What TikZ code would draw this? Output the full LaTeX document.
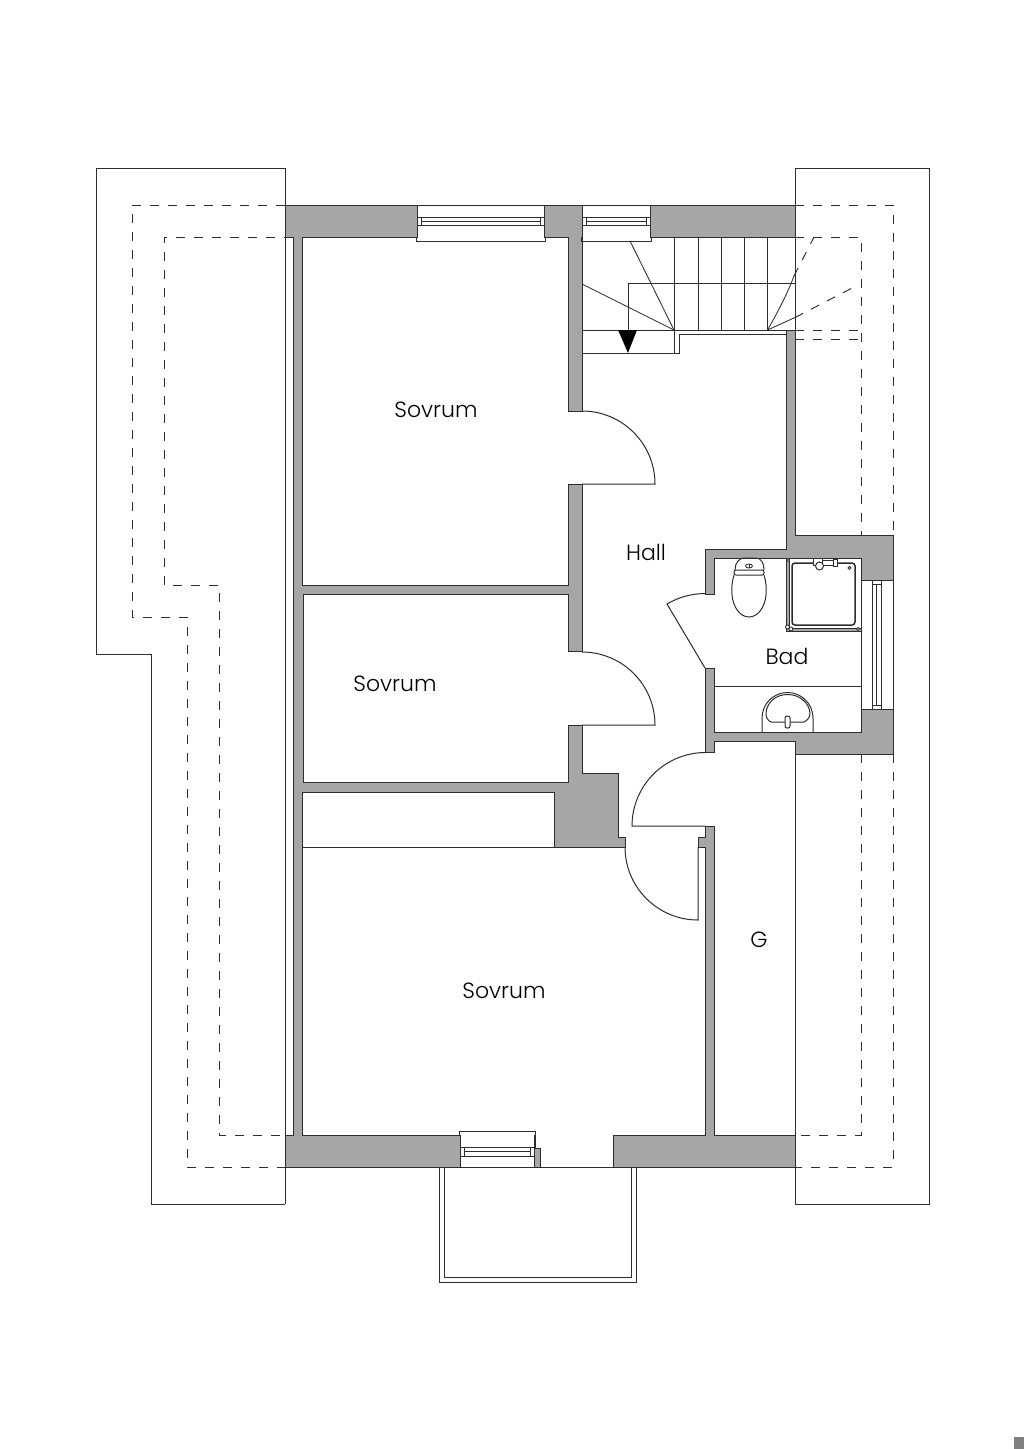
\documentclass[tikz,border=0pt]{standalone}
\usepackage{fontspec}
\setmainfont{Poppins}[UprightFont=*-Light]
\definecolor{wallgray}{HTML}{A6A6A6}
\definecolor{ink}{HTML}{2E2E2E}
\tikzset{
  wall/.style={fill=wallgray,draw=ink,line width=0.95pt,line join=miter},
  ln/.style={draw=ink,line width=1pt},
  thin/.style={draw=ink,line width=0.85pt},
  dsh/.style={draw=ink,line width=0.95pt,dash pattern=on 9pt off 9pt},
  roomlabel/.style={font=\fontsize{22}{24}\selectfont,text=black,inner sep=0pt},
}
\begin{document}
\begin{tikzpicture}[x=1pt,y=-1pt]
\useasboundingbox (0,0) rectangle (1024,1449);
\fill[white] (0,0) rectangle (1024,1449);
\fill[black!50] (1014,1437) rectangle (1024,1449);

% roof outlines
\draw[ln] (285,168) -- (96,168) -- (96,654) -- (151,654) -- (151,1204) -- (285,1204);
\draw[ln] (285,168) -- (285,1204);
\draw[ln] (795,168) -- (929,168) -- (929,1204) -- (795,1204);
\draw[ln] (795,168) -- (795,535);
\draw[ln] (795,741) -- (795,1204);

% dashed lines
\draw[dsh] (285,205) -- (132,205) -- (132,617) -- (187,617) -- (187,1167) -- (285,1167);
\draw[dsh] (293,237) -- (164,237) -- (164,585) -- (219,585) -- (219,1135) -- (293,1135);
\draw[dsh] (795,205) -- (893,205) -- (893,535);
\draw[dsh] (893,754) -- (893,1167) -- (795,1167);
\draw[dsh] (795,237) -- (861,237) -- (861,535);
\draw[dsh] (861,754) -- (861,1135) -- (795,1135);
\draw[dsh] (795,330) -- (861,330);
\draw[dsh] (795,339) -- (861,339);
\draw[dsh] (795,317.5) -- (858,285);
\draw[dsh] (794,276) -- (814,237);

% walls
\draw[wall] (544,205) -- (582,205) -- (582,411) -- (568,411) -- (568,237) -- (544,237) -- cycle;
\draw[wall] (285,205) -- (417,205) -- (417,237) -- (302,237) -- (302,585) -- (568,585) -- (568,484) -- (582,484) -- (582,651) -- (568,651) -- (568,594) -- (303,594) -- (303,782) -- (568,782) -- (568,725) -- (582,725) -- (582,773) -- (618,773) -- (618,837) -- (625,837) -- (625,847) -- (554,847) -- (554,792) -- (302,792) -- (302,1135) -- (460,1135) -- (460,1167) -- (285,1167) -- (285,1135) -- (293,1135) -- (293,237) -- (285,237) -- cycle;
\draw[wall] (613,1135) -- (705,1135) -- (705,847) -- (698,847) -- (698,837) -- (705,837) -- (705,826) -- (714,826) -- (714,1135) -- (795,1135) -- (795,1167) -- (613,1167) -- cycle;
\draw[wall] (650,205) -- (795,205) -- (795,237) -- (650,237) -- cycle;
\draw[wall] (534,1148) -- (540,1148) -- (540,1167) -- (534,1167) -- cycle;
\draw[draw=ink,line width=2pt] (534.5,1135) -- (534.5,1148);
\draw[wall] (786,330) -- (795,330) -- (795,535) -- (893,535) -- (893,580) -- (861,580) -- (861,558) -- (714,558) -- (714,594) -- (705,594) -- (705,549) -- (786,549) -- cycle;
\draw[wall] (705,668) -- (714,668) -- (714,732) -- (861,732) -- (861,709) -- (893,709) -- (893,754) -- (795,754) -- (795,741) -- (714,741) -- (714,752) -- (705,752) -- cycle;

% balcony and floor line across opening
\draw[ln] (460,1167) -- (613,1167);
\draw[ln] (439,1167) -- (439,1282) -- (636,1282) -- (636,1167);
\draw[ln] (444,1167) -- (444,1277) -- (631,1277) -- (631,1167);

% top window left
\draw[ln] (417,205) -- (544,205);
\draw[ln] (417,237) -- (416,237) -- (416,241) -- (545,241) -- (545,237) -- (544,237);
\draw[thin] (417,217) rectangle (544,225);
\draw[thin] (421,217) -- (421,225) (540,217) -- (540,225);
\draw[thin] (421,221) -- (540,221);
% top window right
\draw[ln] (582,205) -- (650,205);
\draw[ln] (582,237) -- (581,237) -- (581,241) -- (651,241) -- (651,237) -- (650,237);
\draw[thin] (582,217) rectangle (650,225);
\draw[thin] (586,217) -- (586,225) (646,217) -- (646,225);
\draw[thin] (586,221) -- (646,221);
% bottom window
\draw[ln] (460,1135) -- (459,1135) -- (459,1131) -- (535,1131) -- (535,1135);
\draw[thin] (460,1147) rectangle (534,1156);
\draw[thin] (464,1147) -- (464,1156) (530,1147) -- (530,1156);
\draw[thin] (464,1151.5) -- (530,1151.5);
% bath window
\draw[ln] (861,580) -- (861,709);
\draw[ln] (893,580) -- (893,709);
\draw[thin] (872,580) rectangle (881,709);
\draw[thin] (872,584) -- (881,584) (872,705) -- (881,705);
\draw[thin] (876.5,584) -- (876.5,705);

% stairs
\draw[thin] (674,237) -- (674,353);
\draw[thin] (698,237) -- (698,330);
\draw[thin] (721,237) -- (721,330);
\draw[thin] (744,237) -- (744,330);
\draw[thin] (767.5,237) -- (767.5,330);
\draw[thin] (628,330) -- (628,283.5) -- (795,283.5);
\draw[thin] (582,330) -- (786,330);
\draw[thin] (582,353) -- (679,353) -- (679,334) -- (786,334);
\draw[thin] (674,330) -- (582,284);
\draw[thin] (674,330) -- (630,241);
\draw[thin] (767.5,330) -- (795,317.5);
\draw[thin] (767.5,330) .. controls (779,310) and (788,292) .. (794,276);
\fill[black] (618,330) -- (637,330) -- (628,353) -- cycle;

% doors
\draw[ln] (582,484) -- (655,484) arc[start angle=0,end angle=-90,radius=73];
\draw[ln] (582,725) -- (655,725) arc[start angle=0,end angle=-90,radius=73];
\draw[ln] (705,826) -- (632,826) arc[start angle=180,end angle=270,radius=73.5];
\draw[ln] (698,847) -- (698,920) arc[start angle=90,end angle=180,radius=73];
\draw[ln] (705,668) -- (667,604) arc[start angle=239.3,end angle=270,radius=74.4];

% closet
\draw[ln] (302,847) -- (554,847);

% bathroom counter and sink
\draw[ln] (714,686) -- (861,686);
\draw[ln] (762,732) -- (762,718) arc[start angle=180,end angle=360,radius=25.5] -- (813,732);
\draw[ln] (771,722) .. controls (767,720) and (766,717) .. (766,713) .. controls (767,702) and (776,694.5) .. (787.5,694.5) .. controls (799,694.5) and (809,702) .. (810,713) .. controls (810,717) and (808,720) .. (804,722) -- cycle;
\draw[ln,fill=white,rounded corners=2pt] (785,716) rectangle (790,728);

% toilet
\draw[ln] (735,570) .. controls (735,563) and (739,558) .. (744,558) -- (756,558) .. controls (761,558) and (764,563) .. (764,570);
\draw[ln,rounded corners=2pt] (734,570) -- (764,570) -- (764,575) -- (734,575) -- cycle;
\draw[ln] (734,575) .. controls (731,585) and (732,590) .. (732,595) .. controls (733,607) and (740,617) .. (749,617) .. controls (758,617) and (765,607) .. (766,595) .. controls (766,590) and (767,585) .. (764,575);
\draw[thin] (749,566) ellipse [x radius=3.5,y radius=2];
\draw[thin] (749,564) -- (749,568);

% shower
\fill[wallgray] (786,558) rectangle (789,631);
\fill[wallgray] (786,628) rectangle (861,631);
\draw[ln] (786,558) -- (786,631) -- (861,631);
\draw[ln] (789,558) -- (789,628) -- (861,628);
\draw[draw=ink,line width=1.5pt,rounded corners=3pt] (792,563) rectangle (855,625);
\draw[thin,fill=white] (788,560) circle (1.6);
\draw[thin,fill=white] (849.5,568) circle (1.6);
\draw[thin,fill=white] (787.5,627) circle (2);
\draw[thin,fill=white] (791,629) circle (2);
\draw[thin,fill=white] (858,629) circle (1.6);
\draw[ln,fill=white] (813,558) rectangle (822,565);
\draw[ln,fill=white] (822,560) rectangle (833,565);
\draw[ln,fill=white] (833,559) rectangle (837,566);
\draw[ln,fill=white] (819.5,566) circle (4);

% labels
\node[roomlabel] (s1) at (436,410) {Sovrum};
\node[roomlabel] (s2) at (395,684) {Sovrum};
\node[roomlabel] (s3) at (504,991) {Sovrum};
\node[roomlabel] (hall) at (646,552.5) {Hall};
\node[roomlabel] (bad) at (787,656.5) {Bad};
\node[roomlabel] (g) at (759,940) {G};
\end{tikzpicture}
\end{document}
